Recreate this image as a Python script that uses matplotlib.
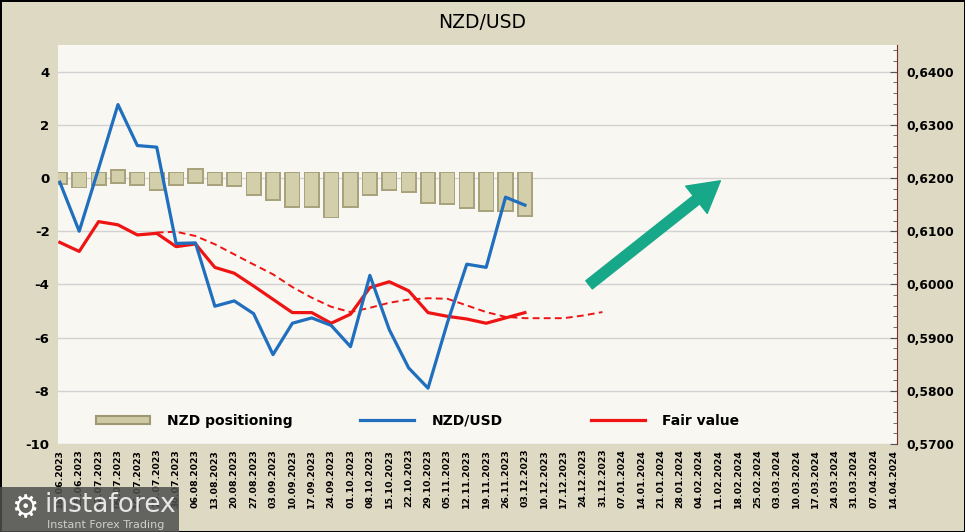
import numpy as np
import pandas as pd
import matplotlib
matplotlib.use('Agg')
import matplotlib.pyplot as plt
from matplotlib.patches import Patch, FancyArrowPatch, Rectangle
from matplotlib.lines import Line2D
from matplotlib.legend import Legend
from matplotlib.ticker import FuncFormatter, MultipleLocator

plt.rcParams['axes.unicode_minus'] = False

# weekly categories on the x axis
dates = pd.date_range('2023-06-18', periods=44, freq='7D').strftime('%d.%m.%Y').tolist()

# NZD positioning bars (left axis): top and bottom of each bar
pos_top = [0.24, 0.24, 0.24, 0.34, 0.24, 0.24, 0.24, 0.36, 0.24, 0.24, 0.24, 0.24, 0.24,
           0.24, 0.24, 0.24, 0.24, 0.24, 0.24, 0.24, 0.24, 0.24, 0.24, 0.24, 0.24]
pos_bottom = [-0.26, -0.39, -0.29, -0.23, -0.31, -0.48, -0.29, -0.23, -0.31, -0.35, -0.69, -0.86, -1.11,
              -1.11, -1.52, -1.11, -0.69, -0.48, -0.57, -0.98, -1.02, -1.17, -1.27, -1.27, -1.45]

# NZD/USD price (right axis)
nzdusd = [0.6192, 0.6100, 0.6218, 0.6338, 0.6261, 0.6258, 0.6077, 0.6078, 0.5959, 0.5969,
          0.5945, 0.5868, 0.5927, 0.5937, 0.5923, 0.5883, 0.6017, 0.5915, 0.5843, 0.5805,
          0.5928, 0.6038, 0.6032, 0.6164, 0.6149]

# fair value (right axis)
fair = [0.6079, 0.6062, 0.6118, 0.6112, 0.6093, 0.6096, 0.6071, 0.6076, 0.6032, 0.6021,
        0.5997, 0.5972, 0.5947, 0.5947, 0.5927, 0.5944, 0.5994, 0.6005, 0.5988, 0.5947,
        0.5940, 0.5935, 0.5927, 0.5937, 0.5947]

# fair value trend (dashed), starts at week index 5
trend_start = 5
trend = [0.60975, 0.6099, 0.6091, 0.60755, 0.60565, 0.60375, 0.6019, 0.5995, 0.5975, 0.5958,
         0.5948, 0.5956, 0.59655, 0.59715, 0.5974, 0.5973, 0.59605, 0.5948, 0.5939, 0.59365,
         0.59365, 0.59365, 0.59415, 0.5948]

bg = '#DDD9C3'
plot_bg = '#F8F7F2'
blue = '#1F6FBE'
red = '#EE1414'

fig = plt.figure(figsize=(9.65, 5.32), dpi=100, facecolor=bg)
fig.patch.set_edgecolor('black')
fig.patch.set_linewidth(1.0)
ax = fig.add_axes([0.060, 0.1654, 0.8695, 0.75])
ax.set_facecolor(plot_bg)
ax2 = ax.twinx()

x = np.arange(len(pos_top))
top = np.array(pos_top)
bot = np.array(pos_bottom)
# bevelled bars: darker frame + lighter face
ax.bar(x, top - bot, bottom=bot, width=0.83, color='#A9A37D', zorder=2)
ax.bar(x, top - bot - 0.14, bottom=bot + 0.07, width=0.66, color='#D4CFAB', zorder=3)

ax.set_xlim(-0.1, 43.2)
ax.set_ylim(-10, 5)
ax.set_yticks(np.arange(-10, 5, 2))
ax.grid(axis='y', color='#D2D2D2', linewidth=1, zorder=0)
ax.set_axisbelow(True)
ax.set_xticks(np.arange(len(dates)))
ax.set_xticklabels(dates, rotation=90, fontsize=6.7, fontweight='bold')
ax.tick_params(axis='x', length=0, pad=3.5)
ax.tick_params(axis='y', length=0, pad=6, labelsize=9.5)
for lab in ax.get_yticklabels():
    lab.set_fontweight('bold')
for s in ['top', 'left', 'bottom', 'right']:
    ax.spines[s].set_visible(False)

ax2.plot(x, nzdusd, color=blue, lw=2.3, zorder=5)
ax2.plot(x, fair, color=red, lw=2.3, zorder=4)
ax2.plot(np.arange(trend_start, trend_start + len(trend)), trend, color=red, lw=1.4,
         ls=(0, (3.5, 2.2)), zorder=4)
ax2.set_ylim(0.57, 0.645)
ax2.yaxis.set_major_locator(MultipleLocator(0.01))
ax2.yaxis.set_minor_locator(MultipleLocator(0.002))
ax2.yaxis.set_major_formatter(FuncFormatter(lambda v, p: f'{v:.4f}'.replace('.', ',')))
ax2.tick_params(axis='y', which='major', direction='in', length=5, color='#555555', pad=7, labelsize=8.8)
ax2.tick_params(axis='y', which='minor', direction='in', length=3, color='#555555')
for lab in ax2.get_yticklabels():
    lab.set_fontweight('bold')
for s in ['top', 'left', 'bottom']:
    ax2.spines[s].set_visible(False)
ax2.spines['right'].set_color('#7A2E2E')

# trend arrow
arrow = FancyArrowPatch((27.2, 0.5996), (34.2, 0.6198),
                        arrowstyle='simple,head_width=2.5,head_length=2.2,tail_width=0.75',
                        mutation_scale=10, color='#17A889', zorder=6)
ax2.add_patch(arrow)

# legend: three separate entries placed like the reference
entries = [(Patch(facecolor='#CFCAA4', edgecolor='#9E9972', linewidth=1.5), 'NZD positioning', 0.030),
           (Line2D([], [], color=blue, lw=2.3), 'NZD/USD', 0.345),
           (Line2D([], [], color=red, lw=2.3), 'Fair value', 0.620)]
for h, lab, xa in entries:
    lg = Legend(ax2, [h], [lab], loc='center left', bbox_to_anchor=(xa, 0.058), frameon=False,
                prop={'weight': 'bold', 'size': 10}, handlelength=3.9,
                handleheight=0.6, handletextpad=1.25)
    ax2.add_artist(lg)

fig.text(0.5, 0.958, 'NZD/USD', ha='center', va='center', fontsize=13.5)

# watermark
fig.patches.append(Rectangle((0, 0), 0.185, 0.085, transform=fig.transFigure,
                             facecolor='#4E4E4E', alpha=0.85, zorder=10))
fig.text(0.012, 0.043, '\u2699', color='white', fontsize=22, va='center', zorder=11)
fig.text(0.046, 0.050, 'instaforex', color='#E6E6E6', fontsize=19, va='center', zorder=11)
fig.text(0.049, 0.014, 'Instant Forex Trading', color='#CFCFCF', fontsize=8, va='center', zorder=11)

fig.savefig('out.png', dpi=100, facecolor=bg, edgecolor='black')
